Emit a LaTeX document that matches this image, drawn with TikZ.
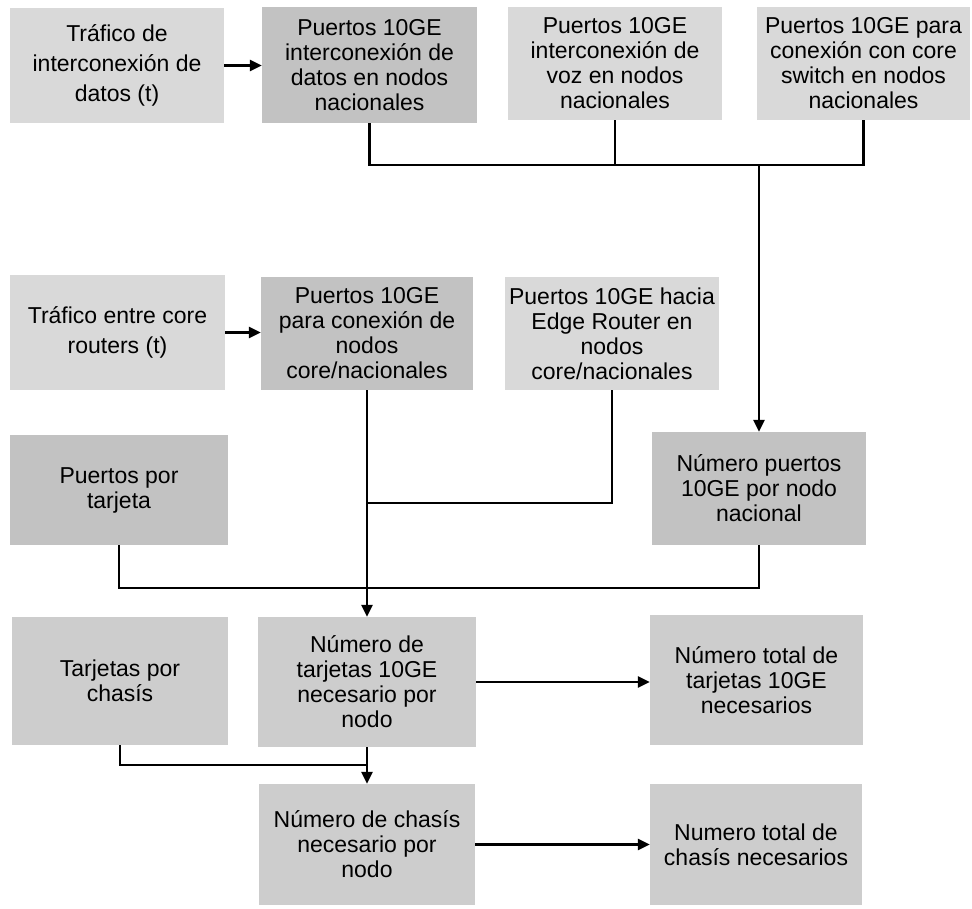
\documentclass[tikz,border=0pt]{standalone}
\usepackage{fontspec}
\setmainfont{Liberation Sans}
\usetikzlibrary{arrows.meta}

\definecolor{boxlight}{HTML}{D9D9D9}
\definecolor{boxmid}{HTML}{CDCDCD}
\definecolor{boxdark}{HTML}{C2C2C2}

\tikzset{
  box/.style={inner sep=0pt, align=center, text=black,
    font=\fontsize{23}{25}\selectfont},
  loose/.style={font=\fontsize{23}{30}\selectfont},
  wire/.style={line width=2.4pt, draw=black},
  arr/.style={wire, -{Triangle[length=12pt,width=11pt]}},
}

\begin{document}
\begin{tikzpicture}[x=1pt,y=1pt]
\useasboundingbox (0,0) rectangle (972,-909);

% first row: data/voice/core-switch port counts
\node[box, loose, fill=boxlight, minimum width=214pt, minimum height=115pt] (A) at (117,-65.5)
  {Tráfico de\\interconexión de\\datos (t)};
\node[box, fill=boxdark, minimum width=215pt, minimum height=116pt] (B) at (369.5,-65)
  {Puertos 10GE\\interconexión de\\datos en nodos\\nacionales};
\node[box, fill=boxlight, minimum width=214pt, minimum height=113pt] (C) at (615,-63.5)
  {Puertos 10GE\\interconexión de\\voz en nodos\\nacionales};
\node[box, fill=boxlight, minimum width=213pt, minimum height=113pt] (D) at (863.5,-63.5)
  {Puertos 10GE para\\conexión con core\\switch en nodos\\nacionales};

% second row: core router ports
\node[box, loose, fill=boxlight, minimum width=215pt, minimum height=115pt] (E) at (117.5,-332.5)
  {Tráfico entre core\\routers (t)};
\node[box, fill=boxdark, minimum width=212pt, minimum height=113pt] (F) at (367,-333.5)
  {Puertos 10GE\\para conexión de\\nodos\\core/nacionales};
\node[box, fill=boxlight, minimum width=214pt, minimum height=113pt] (G) at (612,-333.5)
  {Puertos 10GE hacia\\Edge Router en\\nodos\\core/nacionales};

% third row
\node[box, fill=boxdark, minimum width=218pt, minimum height=110pt] (H) at (119,-490)
  {Puertos por\\tarjeta};
\node[box, fill=boxdark, minimum width=214pt, minimum height=113pt] (I) at (759,-488.5)
  {Número puertos\\10GE por nodo\\nacional};

% fourth row: cards
\node[box, fill=boxmid, minimum width=216pt, minimum height=128pt] (J) at (120,-681)
  {Tarjetas por\\chasís};
\node[box, fill=boxmid, minimum width=218pt, minimum height=130pt] (K) at (367,-682)
  {Número de\\tarjetas 10GE\\necesario por\\nodo};
\node[box, fill=boxmid, minimum width=213pt, minimum height=130pt] (L) at (756.5,-680)
  {Número total de\\tarjetas 10GE\\necesarios};

% fifth row: chassis
\node[box, fill=boxmid, minimum width=216pt, minimum height=121pt] (M) at (367,-844.5)
  {Número de chasís\\necesario por\\nodo};
\node[box, fill=boxmid, minimum width=212pt, minimum height=121pt] (N) at (756,-844.5)
  {Numero total de\\chasís necesarios};

% bus lines
\coordinate (busA) at (0,-165);
\coordinate (busB) at (0,-503);
\coordinate (busC) at (0,-588);
\coordinate (busD) at (0,-765);

% horizontal arrows
\draw[arr] (A.east) -- (A.east -| B.west);
\draw[arr] (E.east) -- (E.east -| F.west);
\draw[arr] (K.east) -- (K.east -| L.west);
\draw[arr] (M.east) -- (M.east -| N.west);

% top row collects into national node port count
\draw[wire] (B.south) -- (B.south |- busA) -- (D.south |- busA) -- (D.south);
\draw[wire] (C.south) -- (C.south |- busA);
\draw[arr] (I.north |- busA) -- (I.north);

% core ports plus edge ports, cards per node
\draw[arr] (F.south) -- (K.north);
\draw[wire] (G.south) -- (G.south |- busB) -- (F.south |- busB);
\draw[wire] (H.south) -- (H.south |- busC) -- (I.south |- busC) -- (I.south);

% chassis per node
\draw[arr] (K.south) -- (M.north);
\draw[wire] (J.south) -- (J.south |- busD) -- (K.south |- busD);
\end{tikzpicture}
\end{document}
